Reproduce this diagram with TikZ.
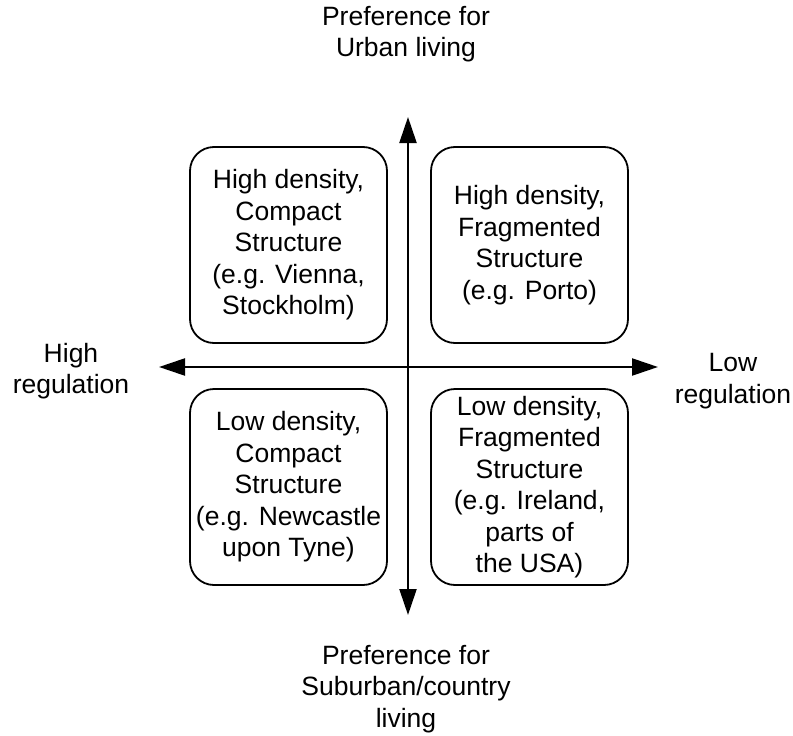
\documentclass[tikz,border=0pt]{standalone}
\usepackage{fontspec}
\setmainfont{Liberation Sans}
\usetikzlibrary{arrows.meta}
\tikzset{
  quad/.style={draw=black, line width=1.8pt, rounded corners=24pt,
    minimum width=197pt, minimum height=196pt, align=center, inner sep=0pt,
    font=\fontsize{26.5}{31.5}\selectfont},
  lbl/.style={align=center, inner sep=0pt, font=\fontsize{26.5}{31.5}\selectfont},
  axis/.style={line width=2.2pt, -{Triangle[length=26pt,width=17pt]}}
}
\begin{document}
\begin{tikzpicture}[x=1pt,y=-1pt]
\useasboundingbox (0,0) rectangle (793,736);
% axes
\coordinate (O) at (408,367);
\coordinate (top) at (408,117);
\coordinate (bot) at (408,615);
\coordinate (lft) at (159,367);
\coordinate (rgt) at (658,367);
\draw[axis] (O) -- (top);
\draw[axis] (O) -- (bot);
\draw[axis] (O) -- (lft);
\draw[axis] (O) -- (rgt);
% boxes
\node[quad] (tl) at (288.5,245) {High density,\\Compact\\Structure\\(e.g. Vienna,\\Stockholm)};
\node[quad] (tr) at (529.5,245) {High density,\\Fragmented\\Structure\\(e.g. Porto)};
\node[quad] (bl) at (288.5,487) {Low density,\\Compact\\Structure\\(e.g. Newcastle\\upon Tyne)};
\node[quad] (br) at (529.5,487) {Low density,\\Fragmented\\Structure\\(e.g. Ireland,\\parts of\\the USA)};
% axis labels
\node[lbl] (tlab) at (406,34) {Preference for\\Urban living};
\node[lbl] (blab) at (406,689) {Preference for\\Suburban/country\\living};
\node[lbl] (llab) at (71,371) {High\\regulation};
\node[lbl] (rlab) at (733,381) {Low\\regulation};
\end{tikzpicture}
\end{document}
